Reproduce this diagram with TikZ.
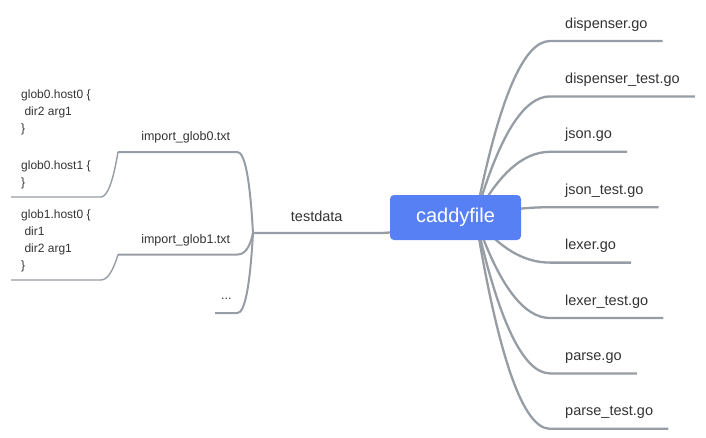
\documentclass[tikz,border=0pt]{standalone}
\usepackage{fontspec}
\setmainfont{Liberation Sans}
\usetikzlibrary{positioning, calc, backgrounds}
\definecolor{topicblue}{RGB}{88,128,245}
\definecolor{linegray}{RGB}{150,157,164}
\definecolor{labelgray}{RGB}{51,51,51}

\begin{document}
\begin{tikzpicture}[
    x=1pt, y=-1pt,
    branch/.style={draw=linegray, line width=2.3pt},
    subbranch/.style={draw=linegray, line width=2pt},
    twig/.style={draw=linegray, line width=1.4pt},
    branchcurve/.style={to path={.. controls
        ($(\tikztostart)!2/3!(\tikztostart |- \tikztotarget)+(#1,0)$) and
        ($(\tikztotarget)!2/3!(\tikztostart |- \tikztotarget)+(#1,0)$) ..
        (\tikztotarget)}},
    leaf/.style={anchor=south west, inner xsep=15pt, inner ysep=0pt,
        text height=10.3pt, text depth=12.7pt, text=labelgray,
        font=\fontsize{14.5}{17}\selectfont},
    import/.style={anchor=south west, inner xsep=7pt, inner ysep=0pt,
        text width=105pt, align=right, text height=9pt, text depth=11pt,
        text=labelgray, font=\fontsize{12.5}{15}\selectfont},
    hostblock/.style={anchor=south west, inner xsep=10pt, inner ysep=7.5pt,
        align=left, text=labelgray, font=\fontsize{12}{17}\selectfont}
  ]
  \useasboundingbox (0,0) rectangle (706,437);

  % central topic
  \node[fill=topicblue, rounded corners=4pt, minimum width=131pt,
        minimum height=45pt, inner sep=0pt, text=white,
        font=\fontsize{20}{24}\selectfont] (caddy) at (455.5,217.5) {caddyfile};
  \coordinate (hub) at ($(caddy.center)+(20,0)$);

  % files on the right
  \node[leaf] (dispenser) at (550,41) {dispenser.go};
  \node[leaf, below=32pt of dispenser.south west, anchor=north west] (disptest)
    {dispenser\_test.go};
  \node[leaf, below=32pt of disptest.south west, anchor=north west] (json) {json.go};
  \node[leaf, below=32pt of json.south west, anchor=north west] (jsontest)
    {json\_test.go};
  \node[leaf, below=32pt of jsontest.south west, anchor=north west] (lexer) {lexer.go};
  \node[leaf, below=32pt of lexer.south west, anchor=north west] (lexertest)
    {lexer\_test.go};
  \node[leaf, below=32pt of lexertest.south west, anchor=north west] (parse) {parse.go};
  \node[leaf, below=32pt of parse.south west, anchor=north west] (parsetest)
    {parse\_test.go};

  % testdata on the left
  \node[leaf, minimum width=127pt, text depth=11pt] (testdata) at (253,233) {testdata};
  \coordinate (junc) at (testdata.south west);

  \node[import] (glob0) at (118,152) {import\_glob0.txt};
  \node[import] (glob1) at (118,254.5) {import\_glob1.txt};
  \node[import, text width=10pt, align=center, inner xsep=6pt, text depth=13.5pt]
    (more) at (215,313) {...};

  \node[hostblock] (glob0hosts) at (11,197)
    {glob0.host0 \{\\ \ dir2 arg1\\ \}\\[20.6pt] glob0.host1 \{\\ \}};
  \node[hostblock] (glob1hosts) at (11,280)
    {glob1.host0 \{\\ \ dir1\\ \ dir2 arg1\\ \}};

  \begin{scope}[on background layer]
    \draw[branch] (hub) to[branchcurve=23] (dispenser.south west) -- (dispenser.south east);
    \draw[branch] (hub) to[branchcurve=23] (disptest.south west) -- (disptest.south east);
    \draw[branch] (hub) to[branchcurve=23] (json.south west) -- (json.south east);
    \draw[branch] (hub) to[branchcurve=23] (jsontest.south west) -- (jsontest.south east);
    \draw[branch] (hub) to[branchcurve=23] (lexer.south west) -- (lexer.south east);
    \draw[branch] (hub) to[branchcurve=23] (lexertest.south west) -- (lexertest.south east);
    \draw[branch] (hub) to[branchcurve=23] (parse.south west) -- (parse.south east);
    \draw[branch] (hub) to[branchcurve=23] (parsetest.south west) -- (parsetest.south east);
    \draw[branch] (caddy.center) to[out=180, in=0] (testdata.south east)
      -- (testdata.south west);
  \end{scope}

  \draw[subbranch] (junc) to[branchcurve=-3] (glob0.south east) -- (glob0.south west);
  \draw[subbranch] (junc) to[branchcurve=-3] (glob1.south east) -- (glob1.south west);
  \draw[subbranch] (junc) to[branchcurve=-3] (more.south east) -- (more.south west);
  \draw[twig] (glob0.south west) to[branchcurve=-5] (glob0hosts.south east)
    -- (glob0hosts.south west);
  \draw[twig] (glob1.south west) to[branchcurve=-5] (glob1hosts.south east)
    -- (glob1hosts.south west);
\end{tikzpicture}
\end{document}
